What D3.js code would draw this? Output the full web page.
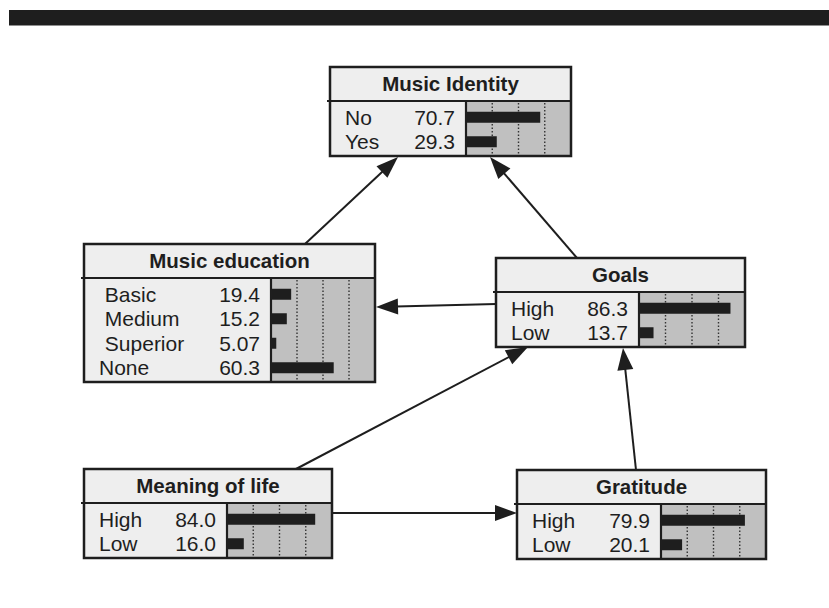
<!DOCTYPE html>
<html>
<head>
<meta charset="utf-8">
<script src="https://cdn.jsdelivr.net/npm/d3@7/dist/d3.min.js"></script>
<style>
  html, body { margin: 0; padding: 0; background: #ffffff; }
  svg { display: block; }
  text { font-family: "Liberation Sans", Arial, sans-serif; fill: #1e1e1e; }
</style>
</head>
<body>
<svg id="chart" width="829" height="608"></svg>
<script>
// ---- data ----
const nodeNames = ["Music Identity", "Music education", "Goals", "Meaning of life", "Gratitude"];
const identityStates = ["No", "Yes"];
const identityValues = [70.7, 29.3];
const educationStates = [" Basic", " Medium", " Superior", "None"];
const educationValues = [19.4, 15.2, 5.07, 60.3];
const goalsStates = ["High", "Low"];
const goalsValues = [86.3, 13.7];
const meaningStates = ["High", "Low"];
const meaningValues = [84.0, 16.0];
const gratitudeStates = ["High", "Low"];
const gratitudeValues = [79.9, 20.1];
const edgeSources = ["Music education", "Goals", "Goals", "Meaning of life", "Meaning of life", "Gratitude"];
const edgeTargets = ["Music Identity", "Music Identity", "Music education", "Goals", "Gratitude", "Goals"];
const tickValues = [25, 50, 75];

const nodeStates = [identityStates, educationStates, goalsStates, meaningStates, gratitudeStates];
const nodeValues = [identityValues, educationValues, goalsValues, meaningValues, gratitudeValues];

// ---- layout (positions only) ----
const layout = {
  "Music Identity":  {x: 330, y: 67,  w: 241, barX: 466},
  "Music education": {x: 84,  y: 244, w: 291, barX: 271},
  "Goals":           {x: 496, y: 258, w: 249, barX: 639},
  "Meaning of life": {x: 84,  y: 469, w: 248, barX: 227},
  "Gratitude":       {x: 517, y: 470, w: 249, barX: 661}
};
const edgeAnchors = [
  [305, 244, 398, 157],
  [577, 258, 490, 157],
  [496, 304, 376, 307],
  [296, 469, 528, 347],
  [332, 513, 517, 513],
  [636, 470, 623, 348]
];
const headerH = 34, padTop = 4, rowH = 24.5, padBottom = 2;
const fs = 21, titleFs = 20.5;
const dark = "#1e1e1e";
const fmt = d3.format(".3r");

const svg = d3.select("#chart");

// top bar
svg.append("rect").attr("x", 9).attr("y", 10).attr("width", 820).attr("height", 15.5).attr("fill", dark);

// ---- edges ----
const edgeG = svg.append("g");
edgeSources.forEach((s, i) => {
  const [x1, y1, x2, y2] = edgeAnchors[i];
  const dx = x2 - x1, dy = y2 - y1, len = Math.hypot(dx, dy);
  const ux = dx / len, uy = dy / len;
  const headL = 22, headW = 8;
  const bx = x2 - ux * headL, by = y2 - uy * headL;
  edgeG.append("line")
    .attr("x1", x1).attr("y1", y1).attr("x2", bx + ux * 2).attr("y2", by + uy * 2)
    .attr("stroke", dark).attr("stroke-width", 2);
  const pts = [[x2, y2], [bx - uy * headW, by + ux * headW], [bx + uy * headW, by - ux * headW]];
  edgeG.append("path").attr("d", d3.line()(pts) + "Z").attr("fill", dark);
});

// ---- nodes ----
nodeNames.forEach((name, i) => {
  const L = layout[name];
  const states = nodeStates[i], values = nodeValues[i];
  const bodyH = padTop + rowH * states.length + padBottom;
  const totalH = headerH + bodyH;
  const right = L.x + L.w;
  const g = svg.append("g");
  const x = d3.scaleLinear().domain([0, 100]).range([L.barX, right]);
  const y = d3.scaleBand().domain(d3.range(states.length))
    .range([L.y + headerH + padTop, L.y + headerH + padTop + rowH * states.length]);

  // backgrounds
  g.append("rect").attr("x", L.x).attr("y", L.y).attr("width", L.w).attr("height", totalH).attr("fill", "#eeeeee");
  g.append("rect").attr("x", L.barX).attr("y", L.y + headerH).attr("width", right - L.barX).attr("height", bodyH).attr("fill", "#c0c0c0");

  // dotted ticks
  tickValues.forEach(t => {
    g.append("line").attr("x1", x(t)).attr("x2", x(t))
      .attr("y1", L.y + headerH + 2).attr("y2", L.y + totalH)
      .attr("stroke", "#333").attr("stroke-width", 1.4).attr("stroke-dasharray", "1.5,2");
  });

  // bars
  values.forEach((v, j) => {
    g.append("rect").attr("x", L.barX).attr("y", y(j) + rowH / 2 - 5.5)
      .attr("width", x(v) - L.barX).attr("height", 11).attr("fill", dark);
  });

  // labels
  states.forEach((s, j) => {
    g.append("text").attr("x", L.x + 15).attr("y", y(j) + rowH / 2 + fs * 0.36)
      .attr("font-size", fs).attr("xml:space", "preserve").style("white-space", "pre").text(s);
    g.append("text").attr("x", L.barX - 11).attr("y", y(j) + rowH / 2 + fs * 0.36)
      .attr("font-size", fs).attr("text-anchor", "end").text(fmt(values[j]));
  });

  // title
  g.append("text").attr("x", L.x + L.w / 2).attr("y", L.y + headerH / 2 + titleFs * 0.36)
    .attr("font-size", titleFs).attr("font-weight", "bold").attr("text-anchor", "middle").text(name);

  // lines
  g.append("line").attr("x1", L.x - 3).attr("x2", right).attr("y1", L.y + headerH).attr("y2", L.y + headerH)
    .attr("stroke", dark).attr("stroke-width", 2.2);
  g.append("line").attr("x1", L.barX).attr("x2", L.barX).attr("y1", L.y + headerH).attr("y2", L.y + totalH)
    .attr("stroke", dark).attr("stroke-width", 2.2);
  g.append("rect").attr("x", L.x).attr("y", L.y).attr("width", L.w).attr("height", totalH)
    .attr("fill", "none").attr("stroke", dark).attr("stroke-width", 2.5);
});
</script>
</body>
</html>
